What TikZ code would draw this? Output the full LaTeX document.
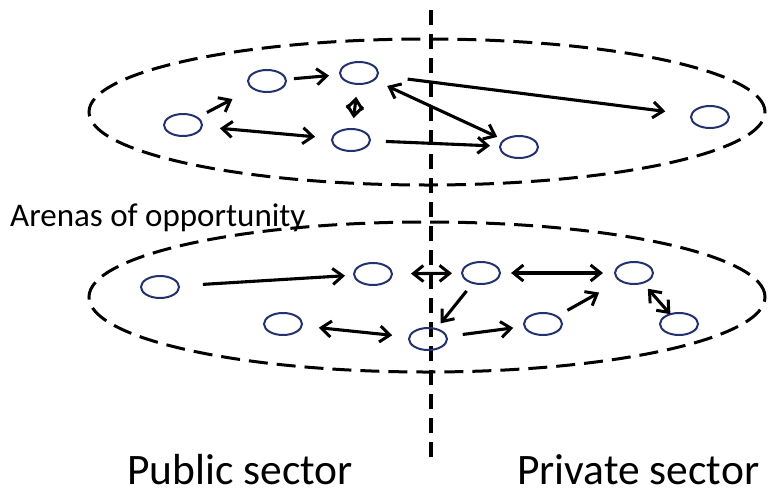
\documentclass[tikz,border=0pt]{standalone}
\usepackage{fontspec}
\setmainfont{Carlito}
\usetikzlibrary{arrows.meta,shapes.geometric}
\definecolor{navy}{RGB}{35,50,110}
\begin{document}
\begin{tikzpicture}[x=1pt,y=-1pt,
  actor/.style={ellipse,draw=navy,line width=2pt,minimum width=38pt,minimum height=22pt,inner sep=0pt},
  arena/.style={ellipse,draw=black,line width=3pt,dash pattern=on 19pt off 9pt,inner sep=0pt},
  tipA/.tip={Straight Barb[length=10pt,width=16pt,line width=3pt]},
  conn/.style={line width=3.1pt,-tipA},
  bconn/.style={line width=3.1pt,tipA-tipA},
  lbl/.style={anchor=base west,inner sep=0pt,text depth=0pt}]
\useasboundingbox (0,0) rectangle (768,490);
% arenas
\node[arena,minimum width=676pt,minimum height=146pt] (top) at (427,112) {};
\node[arena,minimum width=676pt,minimum height=150pt] (bot) at (427,297) {};
% divider
\coordinate (vtop) at (431,10);
\coordinate (vbot) at (431,458);
\draw[line width=3.8pt,dash pattern=on 15pt off 9pt] (vtop) -- (vbot);
% top actors
\node[actor] (A) at (183,125) {};
\node[actor] (B) at (267,81) {};
\node[actor] (C) at (359,73) {};
\node[actor] (D) at (351,140) {};
\node[actor] (E) at (519,147) {};
\node[actor] (F) at (710,117) {};
% bottom actors
\node[actor] (G) at (160,287) {};
\node[actor] (H) at (373,274) {};
\node[actor] (I) at (481,273) {};
\node[actor] (J) at (634,273) {};
\node[actor] (K) at (283,324) {};
\node[actor] (L) at (428,339) {};
\node[actor] (M) at (543,324) {};
\node[actor] (N) at (679,324) {};
% top connectors
\draw[conn,shorten <=27pt,shorten >=39pt] (A.center) -- (B.center);
\draw[conn,shorten <=27pt,shorten >=30pt] (B.center) -- (C.center);
\draw[bconn,shorten <=24pt,shorten >=22pt] (C.center) -- (D.center);
\draw[bconn,shorten <=37pt,shorten >=36pt] (A.center) -- (D.center);
\draw[bconn,shorten <=31pt,shorten >=24pt] (C.center) -- (E.center);
\draw[conn,shorten <=49pt,shorten >=45pt] (C.center) -- (F.center);
\draw[conn,shorten <=35pt,shorten >=29pt] (D.center) -- (E.center);
% bottom connectors
\draw[conn,shorten <=43pt,shorten >=28pt] (G.center) -- (H.center);
\draw[bconn,shorten <=38pt,shorten >=29pt] (H.center) -- (I.center);
\draw[bconn,shorten <=30pt,shorten >=31pt] (I.center) -- (J.center);
\draw[conn,shorten <=23pt,shorten >=20pt] (I.center) -- (L.center);
\draw[bconn,shorten <=36pt,shorten >=36pt] (K.center) -- (L.center);
\draw[conn,shorten <=35pt,shorten >=30pt] (L.center) -- (M.center);
\draw[conn,shorten <=28pt,shorten >=40pt] (M.center) -- (J.center);
\draw[bconn,shorten <=21pt,shorten >=13pt] (J.center) -- (N.center);
% labels
\node[lbl,font=\fontsize{33}{33}\selectfont] (arenas) at (10,226) {Arenas of opportunity};
\node[lbl,font=\fontsize{43.5}{43.5}\selectfont] (pub) at (127,484) {Public sector};
\node[lbl,font=\fontsize{43.5}{43.5}\selectfont] (priv) at (517,484) {Private sector};
\end{tikzpicture}
\end{document}
